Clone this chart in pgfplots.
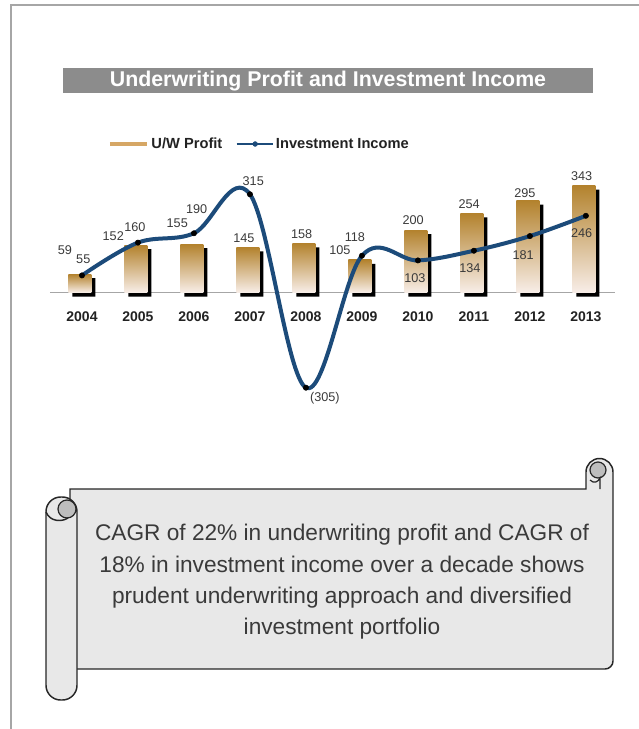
\documentclass[border=0pt]{standalone}
\usepackage{fontspec}
\setmainfont{Liberation Sans}
\usepackage{pgfplots}
\pgfplotsset{compat=1.18}
\definecolor{goldtop}{HTML}{B3822D}
\definecolor{goldmid}{HTML}{DDB487}
\definecolor{goldbot}{HTML}{F8EEE8}
\definecolor{lineblue}{HTML}{1C4B7A}
\definecolor{titlegray}{HTML}{8C8C8C}
\definecolor{framegray}{HTML}{A6A6A6}
\definecolor{legendgold}{HTML}{D6A765}
\definecolor{scrollfill}{HTML}{E8E8E8}
\definecolor{curlgray}{HTML}{BDBDBD}
\definecolor{txt}{HTML}{3A3A3A}
\definecolor{tk}{HTML}{222222}

\pgfplotstableread{
x uw inv
0 59 55
1 152 160
2 155 190
3 145 315
4 158 -305
5 105 118
6 200 103
7 254 134
8 295 181
9 343 246
}\datatable

\pgfplotsset{uwbar/.style={ybar, bar width=17.25pt, bar shift=-1.5pt, draw=none,
  top color=goldtop, middle color=goldmid, bottom color=goldbot, forget plot}}

\begin{document}
\begin{tikzpicture}
\begin{scope}[x=0.75pt,y=-0.75pt]
\useasboundingbox (0,0) rectangle (639,729);
% frame
\draw[framegray, line width=1.5pt] (11,729) -- (11,5) -- (639,5);
% title bar
\fill[titlegray] (63,68) rectangle (593,93.3);
\node[white, font=\bfseries\fontsize{16}{18}\selectfont] at (328,80.7) {Underwriting Profit and Investment Income};
\end{scope}

\begin{axis}[
  at={(37.5pt,-296.625pt)}, anchor=south west,
  scale only axis, width=423.75pt, height=163.8pt,
  xmin=-0.571, xmax=9.52, ymin=-330, ymax=370,
  axis y line=none,
  axis x line*=middle,
  x axis line style={draw=gray!70, line width=0.9pt},
  xtick={0,...,9},
  xticklabels={2004,2005,2006,2007,2008,2009,2010,2011,2012,2013},
  major tick length=0pt,
  xticklabel style={anchor=center, yshift=-18pt, font=\bfseries\fontsize{10.5}{12}\selectfont, text=tk},
  clip=false,
  legend columns=2,
  legend style={at={(axis description cs:0.1027,1.1516)}, anchor=west, draw=none, fill=none,
    font=\bfseries\fontsize{11}{13}\selectfont, text=tk, inner sep=0pt,
    /tikz/every even column/.append style={column sep=8pt}},
]
\addlegendimage{legend image code/.code={\draw[legendgold,line width=2.4pt] (0pt,0pt) -- (28pt,0pt);}}
\addlegendentry{U/W Profit}
\addlegendimage{legend image code/.code={\draw[lineblue,line width=1.2pt] (0pt,0pt) -- (27pt,0pt); \fill[lineblue] (14pt,0pt) circle[radius=1.8pt];}}
\addlegendentry{Investment Income}

% shadow bars
\addplot[ybar, bar width=17.25pt, bar shift=1.5pt, fill=black, draw=none, yshift=-3pt, forget plot]
  table[x=x, y=uw] {\datatable};
% main bars (one plot per bar so each has its own gradient)
\addplot[uwbar] coordinates {(0,59)};
\addplot[uwbar] coordinates {(1,152)};
\addplot[uwbar] coordinates {(2,155)};
\addplot[uwbar] coordinates {(3,145)};
\addplot[uwbar] coordinates {(4,158)};
\addplot[uwbar] coordinates {(5,105)};
\addplot[uwbar] coordinates {(6,200)};
\addplot[uwbar] coordinates {(7,254)};
\addplot[uwbar] coordinates {(8,295)};
\addplot[uwbar] coordinates {(9,343)};
% investment income line
\addplot[lineblue, line width=3pt, smooth, tension=0.6, no marks, forget plot]
  table[x=x, y=inv] {\datatable};
\addplot[only marks, mark=*, mark size=2pt, black, forget plot]
  table[x=x, y=inv] {\datatable};

% bar labels
\begin{scope}[every node/.style={font=\fontsize{9.5}{11}\selectfont, text=txt}]
\node at (axis cs:-0.304,136.2) {59};
\node at (axis cs:0.559,182.1) {152};
\node at (axis cs:1.702,222.1) {155};
\node at (axis cs:2.893,173.7) {145};
\node at (axis cs:3.923,187.5) {158};
\node at (axis cs:4.607,136.2) {105};
\node at (axis cs:5.916,232.4) {200};
\node at (axis cs:6.916,282.7) {254};
\node at (axis cs:7.911,319.9) {295};
\node at (axis cs:8.923,373.4) {343};
% investment labels
\node at (axis cs:0.023,106.4) {55};
\node at (axis cs:0.946,209.0) {160};
\node at (axis cs:2.048,266.7) {190};
\node at (axis cs:3.059,358.3) {315};
\node at (axis cs:4.339,-337.2) {(305)};
\node at (axis cs:4.875,178.8) {118};
\node at (axis cs:5.946,45.5) {103};
\node at (axis cs:6.929,77.6) {134};
\node at (axis cs:7.88,120.2) {181};
\node at (axis cs:8.923,191.7) {246};
\end{scope}
\end{axis}

\begin{scope}[x=0.75pt,y=-0.75pt]
% scroll body
\filldraw[fill=scrollfill, draw=black!85, line width=1.1pt]
  (70,489) -- (586,489) -- (586,472) arc[start angle=180, end angle=360, radius=13.5]
  -- (613,661) arc[start angle=0, end angle=90, radius=8] -- (70,669) -- cycle;
% right curl
\filldraw[fill=curlgray, draw=black!85, line width=0.9pt] (598,470) circle[radius=8];
\draw[black!85, line width=0.9pt] (590,480) .. controls (594,484) and (598,482) .. (600,478) -- (600,489);
% left roll
\filldraw[fill=scrollfill, draw=black!85, line width=1.1pt, rounded corners=11pt] (46,497) rectangle (77,700);
\filldraw[fill=curlgray, draw=black!85, line width=0.9pt] (67,509) circle[radius=9];
\draw[black!85, line width=1.1pt] (46,512) .. controls (50,522) and (62,522) .. (68,518);
% scroll text
\node[align=center, text=txt, font=\fontsize{17}{23.3}\selectfont] at (342,581.7)
  {CAGR of 22\% in underwriting profit and CAGR of\\18\% in investment income over a decade shows\\prudent underwriting approach and diversified\\investment portfolio};
\end{scope}
\end{tikzpicture}
\end{document}
